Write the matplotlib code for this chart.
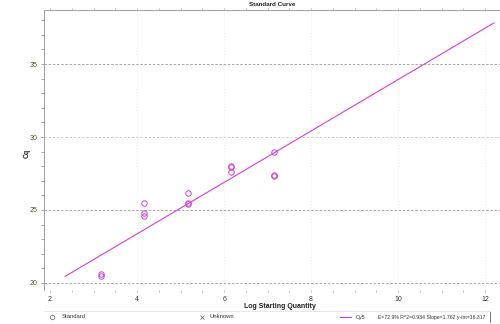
import matplotlib
matplotlib.use("Agg")
import matplotlib.pyplot as plt
from matplotlib.ticker import MultipleLocator
from matplotlib.lines import Line2D

# standard dilution points (log starting quantity vs Cq)
log_qty = [3.17, 3.17, 4.17, 4.17, 4.17, 5.17, 5.17, 5.17,
           6.17, 6.17, 6.17, 7.15, 7.15, 7.15]
cq = [20.6, 20.45, 25.48, 24.8, 24.57, 26.18, 25.45, 25.42,
      28.03, 27.92, 27.58, 28.97, 27.4, 27.33]

# fitted standard curve
slope = 1.762
y_int = 16.317
fit_range = [2.35, 12.2]
fit_label = "E=72.9% R^2=0.934 Slope=1.762 y-int=16.317"

x_ticks = [2, 4, 6, 8, 10, 12]
y_ticks = [20, 25, 30, 35]

purple = "#d040d0"
plt.rcParams['font.family'] = ['Liberation Sans', 'DejaVu Sans']

fig = plt.figure(figsize=(5.0, 3.24), dpi=100)
ax = fig.add_axes([44 / 500, 34 / 324, 456 / 500, 280 / 324])

# grid: dashed horizontals, very faint verticals
for y in y_ticks:
    ax.axhline(y, color="#9a9a9a" if y != 30 else "#c8c8c8",
               linestyle=(0, (3, 2)), linewidth=0.6, zorder=1)
for x in x_ticks[1:]:
    ax.axvline(x, color="#f0f0f0", linestyle=":", linewidth=0.8, zorder=0)

fit_y = [slope * x + y_int for x in fit_range]
ax.plot(fit_range, fit_y, color=purple, linewidth=0.8, zorder=2)
ax.plot(log_qty, cq, linestyle="none", marker="o", markersize=3.9,
        markerfacecolor="none", markeredgecolor=purple,
        markeredgewidth=0.7, zorder=3)

ax.set_xlim(1.862, 12.34)
ax.set_ylim(19.52, 38.7)
ax.set_xticks(x_ticks)
ax.set_yticks(y_ticks)
ax.xaxis.set_minor_locator(MultipleLocator(0.5))
ax.yaxis.set_minor_locator(MultipleLocator(1))

for side in ("right", "bottom"):
    ax.spines[side].set_visible(False)
for side in ("left", "top"):
    ax.spines[side].set_color("#a0a0a0")
    ax.spines[side].set_linewidth(0.7)

ax.tick_params(axis="x", which="both", length=1.5, width=0.5,
               color="#aaaaaa", labelsize=5, labelcolor="#333333",
               pad=3, top=True, direction="out")
ax.tick_params(axis="y", which="both", length=2, width=0.5,
               color="#888888", labelsize=5, labelcolor="#4a5a2a", pad=3)

fig.text(272 / 500, 1 - 4 / 324, "Standard Curve", ha="center", va="center",
         fontsize=4.5, fontweight="bold", color="#222222")
fig.text(27 / 500, 1 - 153 / 324, "Cq", ha="center", va="center",
         rotation=90, fontsize=5, fontweight="bold", color="#222222")
fig.text(280 / 500, 1 - 306 / 324, "Log Starting Quantity", ha="center",
         va="center", fontsize=5, fontweight="bold", color="#222222")

# legend strip along the bottom
fig.add_artist(Line2D([44 / 500, 490 / 500], [1 - 311 / 324] * 2,
                      color="#e4e4e4", linewidth=0.6))
ly = 1 - 317 / 324
fig.add_artist(Line2D([52 / 500], [ly], marker="o", markersize=3.2,
                      markerfacecolor="none", markeredgecolor="#777777",
                      markeredgewidth=0.6))
fig.text(62 / 500, ly, "Standard", va="center", fontsize=4.2, color="#333333")
fig.add_artist(Line2D([202 / 500], [ly], marker="x", markersize=3.5,
                      color="#777777", markeredgewidth=0.6))
fig.text(210 / 500, ly, "Unknown", va="center", fontsize=4.2, color="#333333")
fig.add_artist(Line2D([340 / 500, 351 / 500], [ly, ly], color=purple,
                      linewidth=0.8))
fig.text(356 / 500, ly, "Cy5", va="center", fontsize=4.0, color="#333333")
fig.text(486 / 500, ly, fit_label, ha="right", va="center", fontsize=3.7,
         color="#333333")
fig.add_artist(Line2D([490 / 500, 490 / 500], [ly - 0.015, ly + 0.015],
                      color="#666666", linewidth=0.6))

fig.savefig("out.png", dpi=100)
